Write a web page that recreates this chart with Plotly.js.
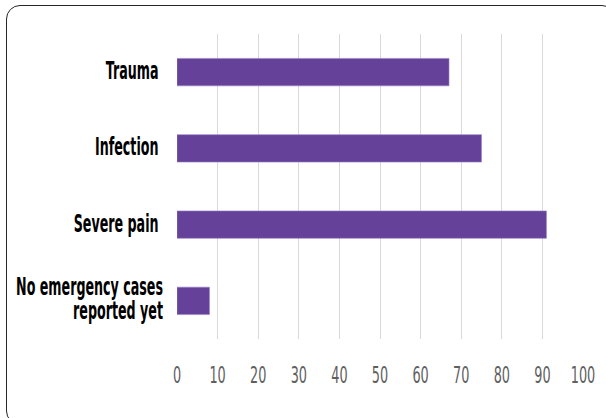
<!DOCTYPE html>
<html>
<head>
<meta charset="utf-8">
<script src="https://cdn.plot.ly/plotly-3.0.1.min.js"></script>
<style>
html,body{margin:0;padding:0;overflow:hidden;background:#fff;}
#wrap{position:relative;width:606px;height:418px;overflow:hidden;}
#chart{width:606px;height:418px;}
#frame{position:absolute;left:6px;top:4.5px;width:610px;height:420px;border:1.6px solid #262626;border-radius:14px;box-sizing:border-box;pointer-events:none;}
</style>
</head>
<body>
<div id="wrap"><div id="chart"></div><div id="frame"></div></div>
<script>
const categories = ["Trauma", "Infection", "Severe pain", "No emergency cases<br>reported yet"];
const values = [67, 75, 91, 8];
const tickVals = [0, 10, 20, 30, 40, 50, 60, 70, 80, 90, 100];

const Y_FONT = 24, X_FONT = 23;
const ASC = 0.928, DESC = 0.236, CAP = 0.729;

const trace = {
  type: 'bar',
  orientation: 'h',
  y: categories,
  x: values,
  marker: {color: '#654199', line: {color: '#9c84c8', width: 0.6}},
  hoverinfo: 'x+y'
};

const layout = {
  width: 606,
  height: 418,
  margin: {l: 177, r: 23, t: 34, b: 79},
  paper_bgcolor: '#ffffff',
  plot_bgcolor: '#ffffff',
  showlegend: false,
  bargap: 0.64,
  xaxis: {
    range: [0, 100],
    tickvals: tickVals,
    ticktext: tickVals.map(String),
    showgrid: true,
    gridcolor: '#d9d9d9',
    gridwidth: 1,
    zeroline: false,
    showline: false,
    ticks: '',
    ticklabelstandoff: 26,
    tickfont: {family: '"DejaVu Sans", sans-serif', size: X_FONT, color: '#5f5f5f'}
  },
  yaxis: {
    autorange: 'reversed',
    showgrid: false,
    zeroline: false,
    showline: false,
    ticks: '',
    ticklabelstandoff: 16,
    tickfont: {family: '"DejaVu Sans", sans-serif', size: Y_FONT, color: '#000000', weight: 'bold'}
  }
};

function squeeze(t, sx) {
  const x0 = parseFloat(t.getAttribute('x')) || 0;
  const tr = t.getAttribute('transform') || '';
  t.setAttribute('transform', tr + ' translate(' + x0 + ',0) scale(' + sx + ',1) translate(' + (-x0) + ',0)');
}
function shift(t, dx, dy) {
  const tr = t.getAttribute('transform') || '';
  t.setAttribute('transform', 'translate(' + dx + ',' + dy + ') ' + tr);
}

function fixLabels() {
  const gd = document.getElementById('chart');
  const top0 = gd.getBoundingClientRect().top;
  const yt = Array.from(gd.querySelectorAll('.ytick text'));
  let ref = null;
  yt.forEach(t => {
    const lines = t.querySelectorAll('tspan.line');
    if (lines.length > 1) {
      lines.forEach((ts, i) => { if (i > 0) ts.setAttribute('dy', '1.02em'); });
      ref = t;
    }
  });
  const sxY = ref ? 147 / ref.getBBox().width : 0.75;
  const bars = Array.from(gd.querySelectorAll('.trace.bars .point path'));
  const norm = s => s.replace(/<br>/g, '').replace(/\s+/g, '');
  yt.forEach(t => {
    squeeze(t, sxY);
    const multi = t.querySelectorAll('tspan.line').length > 1;
    const r = t.getBoundingClientRect();
    const firstBase = r.top - top0 + ASC * Y_FONT;
    const lastBase = r.bottom - top0 - DESC * Y_FONT;
    const capTop = firstBase - CAP * Y_FONT;
    const c = (capTop + lastBase) / 2;
    const idx = categories.findIndex(cat => norm(cat) === norm(t.textContent));
    let target = c;
    if (idx >= 0 && bars[idx]) {
      const br = bars[idx].getBoundingClientRect();
      target = (br.top + br.bottom) / 2 - top0 - (multi ? 2.5 : 1.5);
    }
    shift(t, multi ? 3 : -1.5, target - c);
  });
  const xt = Array.from(gd.querySelectorAll('.xtick text'));
  const hund = xt.find(t => t.textContent.trim() === '100');
  const sxX = hund ? 24.5 / hund.getBBox().width : 0.6;
  xt.forEach(t => {
    squeeze(t, sxX);
    const r = t.getBoundingClientRect();
    const base = r.top - top0 + ASC * X_FONT;
    shift(t, 0, 383.5 - base);
  });
}

Plotly.newPlot('chart', [trace], layout, {displayModeBar: false, staticPlot: true}).then(fixLabels);
</script>
</body>
</html>
